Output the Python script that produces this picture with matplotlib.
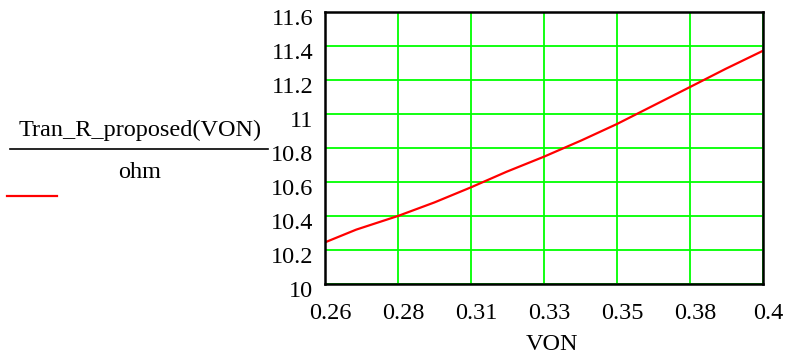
import numpy as np
import matplotlib
matplotlib.use("Agg")
import matplotlib.pyplot as plt
from matplotlib.transforms import ScaledTranslation

# valores
von = [0.26, 0.27, 0.2833, 0.295, 0.3067, 0.318, 0.33, 0.342, 0.3533, 0.365, 0.3767, 0.388, 0.40]
tran_r = [10.245, 10.32, 10.40, 10.48, 10.569, 10.66, 10.749, 10.845, 10.941, 11.05, 11.159, 11.265, 11.372]

x_ticks = [0.26, 0.28333, 0.30667, 0.33, 0.35333, 0.37667, 0.40]
x_labels = ["0.26", "0.28", "0.31", "0.33", "0.35", "0.38", "0.4"]
y_ticks = [10, 10.2, 10.4, 10.6, 10.8, 11, 11.2, 11.4, 11.6]
y_labels = ["10", "10.2", "10.4", "10.6", "10.8", "11", "11.2", "11.4", "11.6"]

FS = 17.5
plt.rcParams['font.family'] = ['Liberation Serif', 'DejaVu Serif']

fig = plt.figure(figsize=(7.87, 3.59), dpi=100)
ax = fig.add_axes([325 / 787, 1 - 284 / 359, 438 / 787, 272 / 359])

ax.plot(von, tran_r, color='#ff0000', linewidth=1.6, zorder=3)

ax.set_xlim(0.26, 0.40)
ax.set_ylim(10, 11.6)
ax.set_xticks(x_ticks)
ax.set_xticklabels(x_labels)
ax.set_yticks(y_ticks)
ax.set_yticklabels(y_labels)
ax.tick_params(axis='x', length=0, labelsize=FS, pad=14)
ax.tick_params(axis='y', length=0, labelsize=FS, pad=8.5)
ax.grid(True, color='#00ff00', linewidth=1.3)

for sp in ax.spines.values():
    sp.set_linewidth(1.8)
    sp.set_color('#000000')
    sp.set_zorder(4)

# deslocamento dos rótulos como no Mathcad
for lbl in ax.get_xticklabels():
    lbl.set_transform(lbl.get_transform() + ScaledTranslation(5 / 100, 0, fig.dpi_scale_trans))
for lbl in ax.get_yticklabels():
    lbl.set_transform(lbl.get_transform() + ScaledTranslation(0, -5 / 100, fig.dpi_scale_trans))

# rótulo do eixo x
fig.text(552 / 787, 1 - 344 / 359, "VON", ha='center', va='center', fontsize=FS)

# rótulo do eixo y (fração) e legenda
fig.text(140 / 787, 1 - 130 / 359, "Tran_R_proposed(VON)", ha='center', va='center', fontsize=FS)
fig.add_artist(plt.Line2D([10 / 787, 268 / 787], [1 - 149 / 359, 1 - 149 / 359],
                          color='black', linewidth=1.2, transform=fig.transFigure))
fig.text(140 / 787, 1 - 172 / 359, "ohm", ha='center', va='center', fontsize=FS)
fig.add_artist(plt.Line2D([7 / 787, 57 / 787], [1 - 196 / 359, 1 - 196 / 359],
                          color='#ff0000', linewidth=1.6, transform=fig.transFigure))

fig.savefig("out.png", dpi=100)
